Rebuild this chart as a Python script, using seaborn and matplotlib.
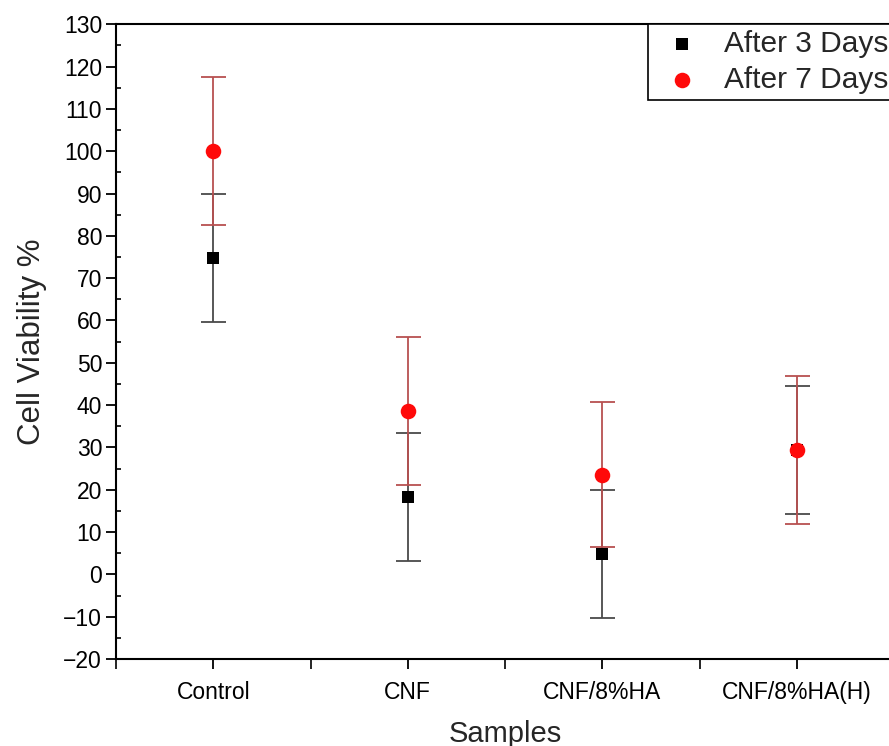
import matplotlib
matplotlib.use("Agg")
import matplotlib.pyplot as plt
import seaborn as sns
import pandas as pd
from matplotlib.ticker import MultipleLocator

# ---- data ----
categories = ["Control", "CNF", "CNF/8%HA", "CNF/8%HA(H)"]
day3_mean = [74.8, 18.3, 4.8, 29.4]
day3_err = [15.2, 15.2, 15.2, 15.2]
day7_mean = [100.0, 38.6, 23.6, 29.4]
day7_err = [17.5, 17.4, 17.2, 17.4]
series_names = ["After 3 Days", "After 7 Days"]

df = pd.DataFrame({
    "Samples": categories * 2,
    "Viability": day3_mean + day7_mean,
    "Err": day3_err + day7_err,
    "Series": [series_names[0]] * len(categories) + [series_names[1]] * len(categories),
})

sns.set_style("ticks")
plt.rcParams["font.family"] = ["Liberation Sans", "DejaVu Sans"]

fig = plt.figure(figsize=(8.89, 7.46), dpi=100)
ax = fig.add_axes([116 / 889, 87 / 746, (894 - 116) / 889, (659 - 24.3) / 746])

palette = {series_names[0]: "#000000", series_names[1]: "#ff0a0a"}
markers = {series_names[0]: "s", series_names[1]: "o"}
ecolors = {series_names[0]: "#4a4a4a", series_names[1]: "#b85050"}
sizes = {series_names[0]: 80, series_names[1]: 125}

for name in series_names:
    sub = df[df["Series"] == name]
    ax.errorbar(sub["Samples"], sub["Viability"], yerr=sub["Err"], fmt="none",
                ecolor=ecolors[name], elinewidth=1.3, capsize=9, capthick=1.3, zorder=2)

for name in series_names:
    sub = df[df["Series"] == name]
    sns.scatterplot(data=sub, x="Samples", y="Viability", color=palette[name],
                    marker=markers[name], s=sizes[name], linewidth=0, label=name,
                    ax=ax, zorder=3)

ax.set_xlim(-0.5, len(categories) - 0.5)
ax.set_ylim(-20, 130)
ax.yaxis.set_major_locator(MultipleLocator(10))
ax.yaxis.set_minor_locator(MultipleLocator(5))
ax.xaxis.set_minor_locator(MultipleLocator(0.5))

for sp in ax.spines.values():
    sp.set_linewidth(1.5)
    sp.set_color("black")

ax.tick_params(which="major", direction="out", length=7, width=1.3, labelsize=16.5,
               colors="black", pad=3)
ax.tick_params(which="minor", direction="in", length=3.5, width=1.2, colors="black")
ax.tick_params(axis="x", which="minor", direction="out", length=7)
ax.tick_params(axis="x", which="major", length=7, pad=9)

ax.set_xlabel("Samples", fontsize=21, labelpad=11)
ax.set_ylabel("Cell Viability %", fontsize=22.5, labelpad=12)

leg = ax.legend(loc="upper right", bbox_to_anchor=(1.0, 1.0), borderaxespad=0,
                fontsize=21.5, frameon=True, fancybox=False, framealpha=1,
                edgecolor="black", handletextpad=0.45, borderpad=0.2,
                labelspacing=0.25, handlelength=1.9, markerscale=1.0)
leg.get_frame().set_linewidth(1.2)

fig.savefig("out.png", dpi=100)
